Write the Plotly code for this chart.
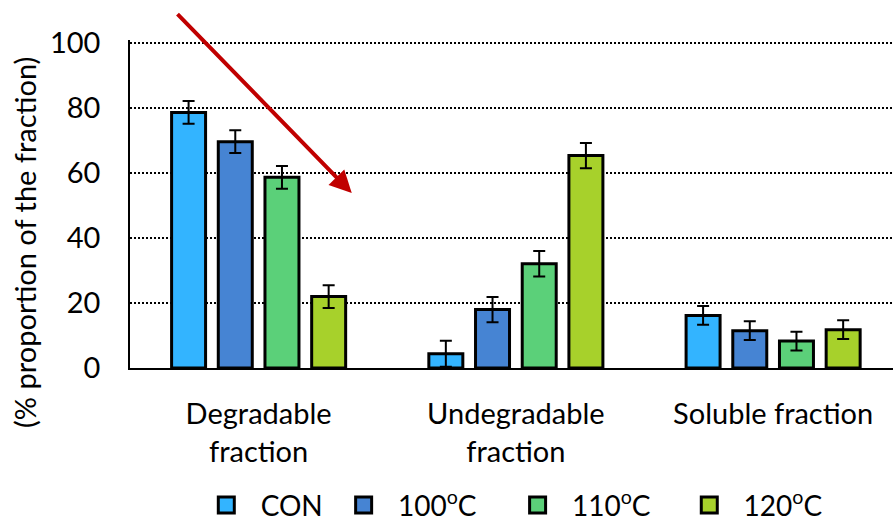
import plotly.graph_objects as go

# Fractions and treatment groups
categories = ["Degradable<br>fraction", "Undegradable<br>fraction", "Soluble fraction"]
treatments = ["CON", "100<sup>o</sup>C", "110<sup>o</sup>C", "120<sup>o</sup>C"]

# Mean values (% proportion of the fraction) per treatment, in category order
con_vals = [78.7, 4.4, 16.2]
t100_vals = [69.7, 18.0, 11.5]
t110_vals = [58.7, 32.1, 8.3]
t120_vals = [22.0, 65.4, 11.8]

# Error bar half-lengths
con_err = [3.5, 4.0, 2.9]
t100_err = [3.5, 3.9, 2.9]
t110_err = [3.5, 3.9, 2.9]
t120_err = [3.5, 3.9, 2.9]

colors = ["#33B4FF", "#4684D3", "#5BD079", "#A7D12B"]

series_vals = [con_vals, t100_vals, t110_vals, t120_vals]
series_err = [con_err, t100_err, t110_err, t120_err]

FONT = "Lato"

fig = go.Figure()

for name, vals, errs, col in zip(treatments, series_vals, series_err, colors):
    fig.add_trace(go.Bar(
        x=categories, y=vals, name=name, showlegend=False,
        marker=dict(color=col, line=dict(color="black", width=3)),
        error_y=dict(type="data", array=errs, visible=True,
                     color="black", thickness=2, width=6),
    ))

# Legend keys, one legend box per treatment
legend_x = [0.100, 0.280, 0.508, 0.733]
for i, (name, col) in enumerate(zip(treatments, colors)):
    lg = "legend" if i == 0 else f"legend{i + 1}"
    fig.add_trace(go.Scatter(
        x=[None], y=[None], mode="markers", name="\u00a0\u00a0" + name,
        legend=lg, showlegend=True,
        marker=dict(symbol="square", size=16, color=col,
                    line=dict(color="black", width=3)),
    ))

legend_common = dict(orientation="h", xanchor="left", yanchor="middle",
                     y=0.034, yref="container", bgcolor="rgba(0,0,0,0)",
                     font=dict(family=FONT, size=28, color="black"),
                     itemsizing="trace")
fig.update_layout(
    legend=dict(x=legend_x[0], **legend_common),
    legend2=dict(x=legend_x[1], **legend_common),
    legend3=dict(x=legend_x[2], **legend_common),
    legend4=dict(x=legend_x[3], **legend_common),
)

# Downward trend arrow over the degradable fraction
fig.add_annotation(
    x=0.362, y=53.9, ax=-0.321, ay=109.4,
    xref="x", yref="y", axref="x", ayref="y",
    text="", showarrow=True, arrowhead=2, arrowsize=1.1,
    arrowwidth=4, arrowcolor="#C00000", standoff=0,
)

# Y-axis title
fig.add_annotation(
    x=-0.1376, y=0.3815, xref="paper", yref="paper",
    text="(% proportion of the fraction)", textangle=-90,
    showarrow=False, xanchor="center", yanchor="middle",
    font=dict(family=FONT, size=29, color="black"),
)

fig.update_layout(
    width=893, height=523,
    margin=dict(l=130, r=0, t=40, b=155, autoexpand=False),
    paper_bgcolor="white", plot_bgcolor="white",
    barmode="group", bargap=0.274, bargroupgap=0.272,
    font=dict(family=FONT, size=29, color="black"),
    xaxis=dict(
        type="category", range=[-0.5, 2.466], automargin=False,
        showline=True, linecolor="black", linewidth=2,
        ticks="", showgrid=False, ticklabelstandoff=19,
        tickfont=dict(family=FONT, size=29, color="black"),
    ),
    yaxis=dict(
        range=[0, 101], dtick=20, tick0=0, automargin=False,
        showline=True, linecolor="black", linewidth=1.5,
        showgrid=True, gridcolor="black", gridwidth=1.5, griddash="2px,2px",
        zeroline=False, ticks="", ticklabelstandoff=22,
        tickfont=dict(family=FONT, size=29, color="black"),
    ),
)

fig.write_html("out.html")
